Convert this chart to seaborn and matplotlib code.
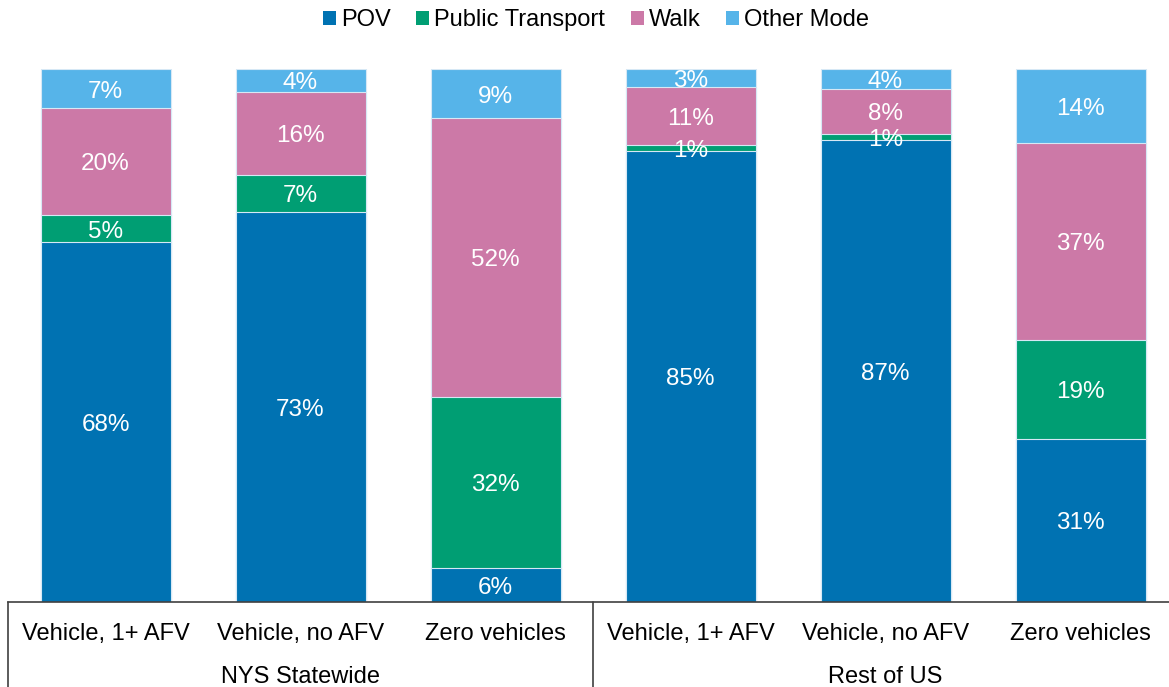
import matplotlib
matplotlib.use("Agg")
import matplotlib.pyplot as plt
import matplotlib.transforms as mtransforms
from matplotlib.patches import Patch
import numpy as np
import pandas as pd
import seaborn as sns

sns.set_theme(style="white")
plt.rcParams['font.family'] = ['Liberation Sans', 'DejaVu Sans']
plt.rcParams['text.color'] = 'black'

# ---- data (percent of trips) ----
categories = ["Vehicle, 1+ AFV", "Vehicle, no AFV", "Zero vehicles",
              "Vehicle, 1+ AFV", "Vehicle, no AFV", "Zero vehicles"]
groups = ["NYS Statewide", "Rest of US"]
modes = ["POV", "Public Transport", "Walk", "Other Mode"]
pov = [67.5, 73.3, 6.4, 84.7, 86.7, 30.6]
public_transport = [5.2, 6.8, 32.1, 1.1, 1.2, 18.6]
walk = [20.0, 15.7, 52.4, 10.8, 8.4, 37.0]
other = [7.3, 4.2, 9.1, 3.4, 3.7, 13.8]
colors = ["#0072B2", "#009E73", "#CC79A7", "#56B4E9"]

series = [pov, public_transport, walk, other]
W, H = 1169, 687
fig = plt.figure(figsize=(W / 100, H / 100), dpi=100)
ax_left = 8 / W
ax_bottom = (H - 602) / H
ax = fig.add_axes([ax_left, ax_bottom, 1170 / W, 532.7 / H])

x = np.arange(len(categories))
vals = np.array(series) / 100.0
cum = np.cumsum(vals, axis=0)

# draw stacked bars with seaborn: tallest cumulative first
for i in reversed(range(len(modes))):
    df = pd.DataFrame({"x": x, "y": cum[i]})
    sns.barplot(data=df, x="x", y="y", color=colors[i], saturation=1,
                width=130 / 195, edgecolor="#d6e8f5", linewidth=0.8,
                ax=ax, native_scale=True)

down = mtransforms.ScaledTranslation(0, -3 / 100, fig.dpi_scale_trans)

# segment labels
for i in range(len(modes)):
    for j in range(len(categories)):
        v = vals[i, j]
        yc = cum[i, j] - v / 2
        ax.text(x[j], yc, f"{round(v*100):.0f}%", ha="center", va="center",
                color="white", fontsize=17.5, transform=ax.transData + down)

ax.set_xlim(-0.5, 5.5)
ax.set_ylim(0, 1.0)
ax.set_xlabel("")
ax.set_ylabel("")
ax.set_xticks([])
ax.set_yticks([])
for s in ["top", "right", "left"]:
    ax.spines[s].set_visible(False)
ax.spines["bottom"].set_color("#404040")
ax.spines["bottom"].set_linewidth(1.2)

trans = mtransforms.blended_transform_factory(ax.transData, ax.transAxes)
for j, c in enumerate(categories):
    ax.text(x[j], -(631 - 602) / 532.7, c, transform=trans + down, ha="center",
            va="center", fontsize=17, color="black")
ax.text(1, -(674 - 602) / 532.7, groups[0], transform=trans + down, ha="center",
        va="center", fontsize=17, color="black")
ax.text(4, -(674 - 602) / 532.7, groups[1], transform=trans + down, ha="center",
        va="center", fontsize=17, color="black")
for xv in [-0.5, 2.5, 5.5]:
    ax.plot([xv, xv], [0, -0.2], transform=trans, color="#404040",
            linewidth=1.2, clip_on=False)

handles = [Patch(facecolor=c, edgecolor="none") for c in colors]
fig.legend(handles, modes, loc="center", bbox_to_anchor=(596 / W, 1 - 20 / H),
           ncol=4, frameon=False, fontsize=17, handlelength=0.55,
           handleheight=0.55, handletextpad=0.2, columnspacing=1.1,
           labelcolor="black")

fig.savefig("out.png", dpi=100)
